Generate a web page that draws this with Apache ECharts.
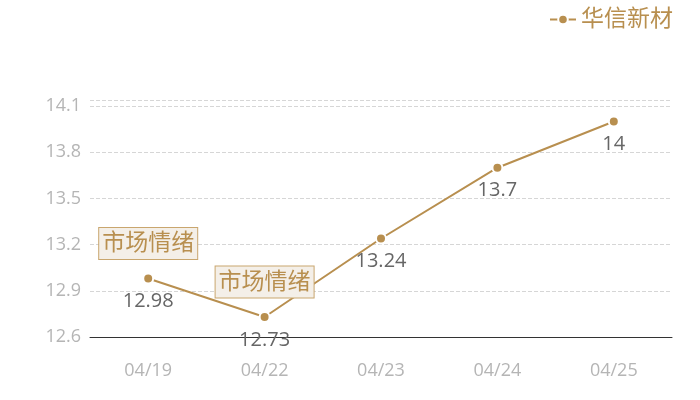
<!DOCTYPE html>
<html>
<head>
<meta charset="utf-8">
<script src="https://cdn.jsdelivr.net/npm/echarts@6/dist/echarts.min.js"></script>
<style>
  html, body { margin: 0; padding: 0; background: #fff; }
  #chart { width: 700px; height: 400px; }
</style>
</head>
<body>
<div id="chart"></div>
<script>
// 数据
var seriesName = '华信新材';
var dates = ['04/19', '04/22', '04/23', '04/24', '04/25'];
var prices = [12.98, 12.73, 13.24, 13.7, 14];
var noteText = '市场情绪';
var noteDates = ['04/19', '04/22'];

var gold = '#b88f4f';
var font = '"Open Sans", "Noto Sans CJK SC", sans-serif';

var myChart = echarts.init(document.getElementById('chart'));

myChart.setOption({
    textStyle: { fontFamily: font },
    legend: {
        data: [seriesName],
        right: 22,
        top: 3,
        itemWidth: 26,
        itemHeight: 12,
        itemGap: 4,
        textStyle: { color: gold, fontSize: 23, fontFamily: font }
    },
    grid: {
        left: 90,
        right: 28,
        top: 100,
        bottom: 63
    },
    xAxis: {
        type: 'category',
        data: dates,
        axisLine: { lineStyle: { color: '#333', width: 1 } },
        axisTick: { show: false },
        axisLabel: { color: '#b5b5b5', fontSize: 18, margin: 25, fontFamily: font }
    },
    yAxis: {
        type: 'value',
        min: 12.6,
        max: 14.14,
        interval: 0.3,
        axisLine: { show: false },
        axisTick: { show: false },
        axisLabel: { color: '#b5b5b5', fontSize: 18, margin: 9, showMaxLabel: false, fontFamily: font },
        splitLine: { lineStyle: { color: '#d6d6d6', type: 'dashed', width: 1 } }
    },
    series: [
        {
            name: seriesName,
            type: 'line',
            data: prices,
            symbol: 'circle',
            symbolSize: 10,
            itemStyle: { color: gold, borderColor: '#fff', borderWidth: 2 },
            lineStyle: { color: gold, width: 2 },
            label: {
                show: true,
                position: 'bottom',
                distance: 7,
                color: '#666',
                fontSize: 20,
                fontFamily: font
            },
            markPoint: {
                symbol: 'circle',
                symbolSize: 1,
                itemStyle: { color: 'rgba(0,0,0,0)' },
                label: {
                    show: true,
                    formatter: noteText,
                    color: gold,
                    fontSize: 23,
                    fontFamily: font,
                    backgroundColor: '#f4efe8',
                    borderColor: '#c9a66e',
                    borderWidth: 1,
                    padding: [4, 3, 4, 3],
                    offset: [0, -35]
                },
                data: noteDates.map(function (d) {
                    var i = dates.indexOf(d);
                    return { coord: [d, prices[i]] };
                })
            }
        }
    ]
});

window.onresize = function () {
    myChart.resize();
};
</script>
</body>
</html>
